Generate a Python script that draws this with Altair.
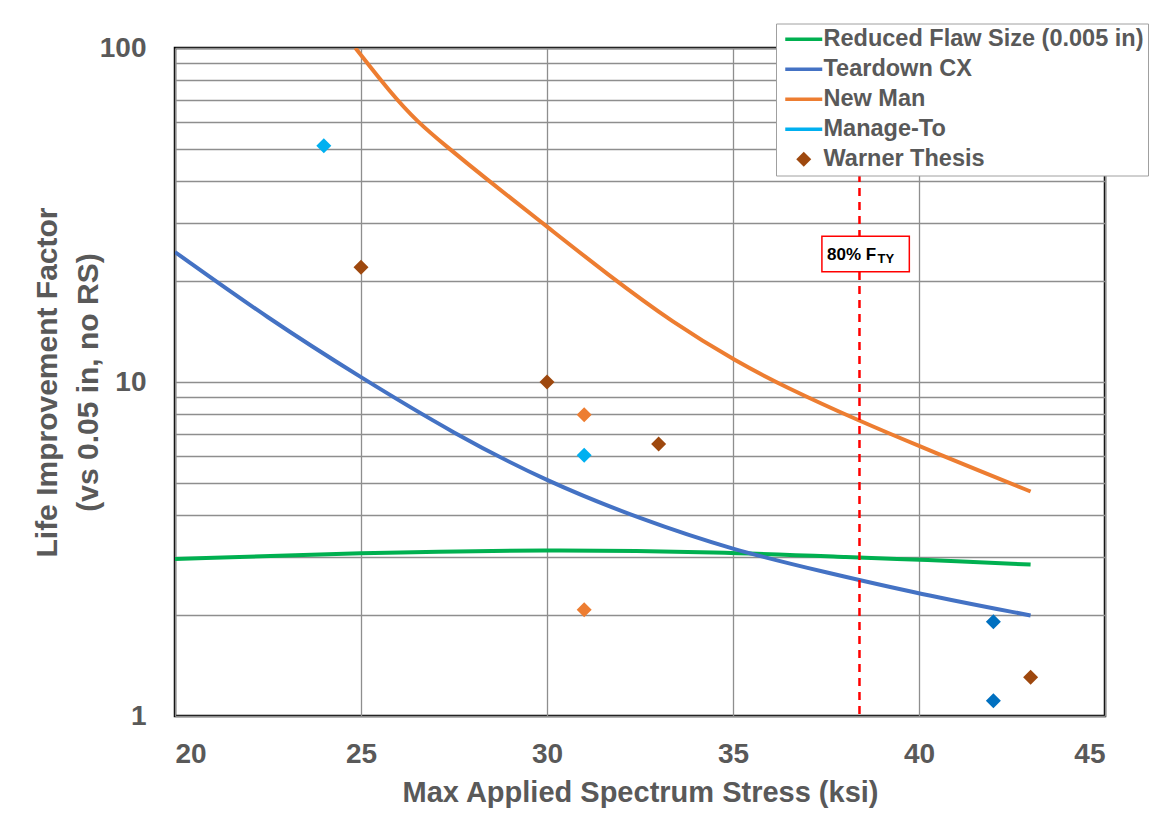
import altair as alt
import pandas as pd

FONT = "Liberation Sans"
GRAY = "#595959"

series_names = ["Reduced Flaw Size (0.005 in)", "Teardown CX", "New Man", "Manage-To", "Warner Thesis"]
series_colors = ["#00B050", "#4472C4", "#ED7D31", "#00B0F0", "#9E480E"]

# curves
green_x = [20, 25, 30, 34.6, 38.4, 40, 43]
green_y = [2.95, 3.08, 3.15, 3.10, 2.98, 2.94, 2.84]

blue_x = [20, 22.5, 25, 27.5, 30, 32.5, 35, 37.5, 40, 43]
blue_y = [24.5, 15.5, 10.3, 7.0, 5.03, 3.89, 3.14, 2.69, 2.32, 2.0]

orange_x = [24.85, 25.8, 26.5, 27.3, 28.3, 30, 31.6, 33.4, 35.1, 36.4, 38.4, 40, 41.8, 43]
orange_y = [100, 73.3, 60.3, 50.7, 41.1, 29.2, 21.1, 15.0, 11.5, 9.66, 7.64, 6.43, 5.33, 4.70]

# scatter points
manage_x = [24, 31]
manage_y = [51, 6.04]
newman_pts_x = [31, 31]
newman_pts_y = [7.98, 2.08]
warner_x = [25, 30, 33, 43]
warner_y = [22.05, 10.0, 6.52, 1.306]
test_x = [42, 42]
test_y = [1.915, 1.11]

x_ticks = [20, 25, 30, 35, 40, 45]
y_ticks = [1, 2, 3, 4, 5, 6, 7, 8, 9, 10, 20, 30, 40, 50, 60, 70, 80, 90, 100]

fty_x = 38.4
box_x = [37.39]
box_x2 = [39.74]
box_y = [21.4]
box_y2 = [27.3]
label_y = 23.2

LINE = "M-3.7,-0.34L3.7,-0.34L3.7,0.34L-3.7,0.34Z"
DIAMOND = "M0,-1.5L1.5,0L0,1.5L-1.5,0Z"

lines_df = pd.concat([
    pd.DataFrame({"x": green_x, "y": green_y, "series": series_names[0]}),
    pd.DataFrame({"x": blue_x, "y": blue_y, "series": series_names[1]}),
    pd.DataFrame({"x": orange_x, "y": orange_y, "series": series_names[2]}),
], ignore_index=True)

pts_df = pd.concat([
    pd.DataFrame({"x": manage_x, "y": manage_y, "series": series_names[3]}),
    pd.DataFrame({"x": newman_pts_x, "y": newman_pts_y, "series": series_names[2]}),
    pd.DataFrame({"x": warner_x, "y": warner_y, "series": series_names[4]}),
], ignore_index=True)

test_df = pd.DataFrame({"x": test_x, "y": test_y})
legend_df = pd.DataFrame({"series": series_names})

xscale = alt.Scale(domain=[20, 45], nice=False, zero=False)
yscale = alt.Scale(type="log", domain=[1, 100], nice=False)
cscale = alt.Scale(domain=series_names, range=series_colors)

xaxis = alt.Axis(
    values=x_ticks, grid=True, gridColor="#8E8E8E", gridWidth=1.3,
    ticks=False, tickSize=0, domain=False,
    labelFont=FONT, labelFontSize=28, labelFontWeight="bold", labelColor=GRAY,
    labelPadding=24,
    title="Max Applied Spectrum Stress (ksi)",
    titleFont=FONT, titleFontSize=29, titleFontWeight="bold", titleColor=GRAY,
    titleBaseline="alphabetic", titleY=85,
)
yaxis = alt.Axis(
    values=y_ticks, grid=True, gridColor="#8E8E8E", gridWidth=1.3,
    ticks=False, tickSize=0, domain=False, format="d",
    labelExpr="datum.value == 1 || datum.value == 10 || datum.value == 100 ? datum.label : ''",
    labelOverlap=False,
    labelFont=FONT, labelFontSize=28, labelFontWeight="bold", labelColor=GRAY,
    labelPadding=29,
    title=["Life Improvement Factor", "(vs 0.05 in, no RS)"],
    titleFont=FONT, titleFontSize=30, titleFontWeight="bold", titleColor=GRAY,
    titleLineHeight=41, titleBaseline="alphabetic", titleX=-119, titleY=334,
)

X = alt.X("x:Q", scale=xscale, axis=xaxis)
Y = alt.Y("y:Q", scale=yscale, axis=yaxis)

lines = alt.Chart(lines_df).mark_line(strokeWidth=4, interpolate="basis", clip=True).encode(
    x=X, y=Y, color=alt.Color("series:N", scale=cscale, legend=None),
)

points = alt.Chart(pts_df).mark_point(filled=True, shape=DIAMOND, size=100, opacity=1).encode(
    x="x:Q", y="y:Q", color=alt.Color("series:N", scale=cscale, legend=None),
)

test_pts = alt.Chart(test_df).mark_point(filled=True, shape=DIAMOND, size=100, opacity=1, color="#0070C0").encode(
    x="x:Q", y="y:Q",
)

leg = dict(
    title=None, orient="none", legendX=601, legendY=-24.5,
    padding=4, rowPadding=5, symbolSize=100, symbolOffset=12, labelOffset=8,
    labelFont=FONT, labelFontSize=23.5, labelFontWeight="bold", labelColor=GRAY,
    labelLimit=500, strokeColor="#A0A0A0", fillColor="white", symbolStrokeWidth=0,
)
legend_layer = alt.Chart(legend_df).mark_point(filled=True, size=100, opacity=1).encode(
    color=alt.Color("series:N", scale=cscale, legend=alt.Legend(**leg)),
    shape=alt.Shape("series:N", scale=alt.Scale(domain=series_names, range=[LINE, LINE, LINE, LINE, DIAMOND]),
                    legend=alt.Legend(**leg)),
).transform_filter("false")

fty_df = pd.DataFrame({"x": [fty_x]})
rule = alt.Chart(fty_df).mark_rule(color="#FF0000", strokeWidth=2.5, strokeDash=[8, 6]).encode(x="x:Q")

box_df = pd.DataFrame({"x": box_x, "x2": box_x2, "y": box_y, "y2": box_y2})
box = alt.Chart(box_df).mark_rect(fill="white", stroke="#FF0000", strokeWidth=1.5).encode(
    x="x:Q", x2="x2:Q", y="y:Q", y2="y2:Q")

txt_df = pd.DataFrame({"x": [fty_x], "y": [label_y]})
txt_main = alt.Chart(txt_df).mark_text(text="80% F", font=FONT, fontSize=17, fontWeight="bold",
                                       color="black", align="left", baseline="alphabetic", dx=-32.5).encode(
    x="x:Q", y="y:Q")
txt_sub = alt.Chart(txt_df).mark_text(text="TY", font=FONT, fontSize=13, fontWeight="bold",
                                      color="black", align="left", baseline="alphabetic", dx=18, dy=3).encode(
    x="x:Q", y="y:Q")

chart = alt.layer(lines, points, test_pts, rule, box, txt_main, txt_sub, legend_layer).resolve_legend(
    color="independent", shape="independent"
).properties(
    width=930, height=668,
    autosize=alt.AutoSizeParams(type="none"),
    padding={"left": 167, "top": 40, "right": 50, "bottom": 105},
    background="white",
).configure_view(stroke="black", strokeWidth=2.5)

chart.save("out.html", embed_options={"renderer": "svg", "actions": False})
